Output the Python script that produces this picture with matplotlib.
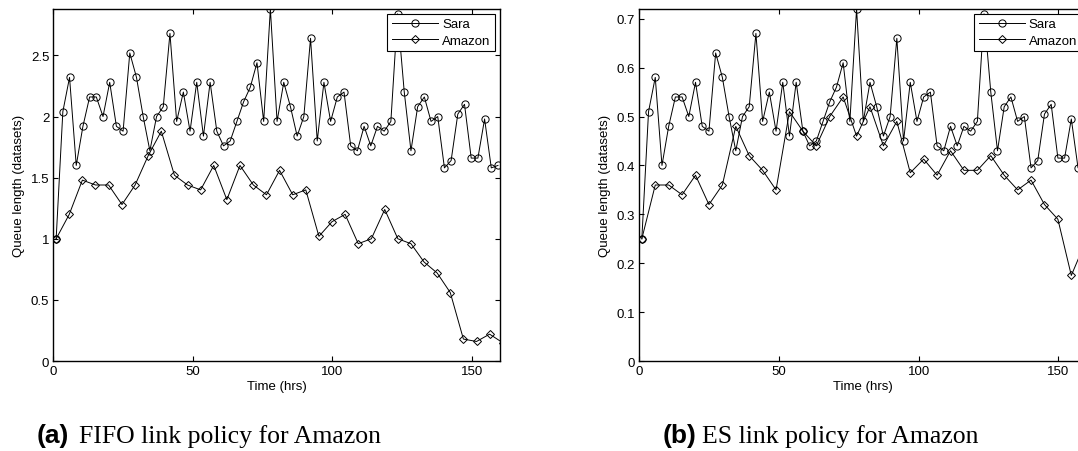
import matplotlib
matplotlib.use('Agg')  # no display
import matplotlib.pyplot as plt
from matplotlib.ticker import MultipleLocator, FormatStrFormatter

plt.rcParams['font.family'] = ['Liberation Sans', 'DejaVu Sans']

# Sample times (hrs)
sara_hours = [1.0, 3.4, 5.8, 8.2, 10.6, 13.0, 15.4, 17.8, 20.2, 22.6,
              25.0, 27.4, 29.8, 32.2, 34.6, 37.0, 39.4, 41.8, 44.2, 46.6,
              49.0, 51.4, 53.8, 56.2, 58.6, 61.0, 63.4, 65.8, 68.2, 70.6,
              73.0, 75.4, 77.8, 80.2, 82.6, 85.0, 87.4, 89.8, 92.2, 94.6,
              97.0, 99.4, 101.8, 104.2, 106.6, 109.0, 111.4, 113.8, 116.2, 118.6,
              121.0, 123.4, 125.8, 128.2, 130.6, 133.0, 135.4, 137.8, 140.2, 142.6,
              145.0, 147.4, 149.8, 152.2, 154.6, 157.0, 159.4]
amazon_fifo_hours = [1.0, 5.7, 10.4, 15.1, 19.8, 24.6, 29.3, 34.0, 38.7, 43.4,
                     48.1, 52.8, 57.5, 62.2, 66.9, 71.7, 76.4, 81.1, 85.8, 90.5,
                     95.2, 99.9, 104.6, 109.3, 114.0, 118.8, 123.5, 128.2, 132.9, 137.6,
                     142.3, 147.0, 151.7, 156.4, 161.1]
amazon_es_hours = [1.0, 5.8, 10.6, 15.4, 20.2, 25.0, 29.8, 34.6, 39.4, 44.2,
                   49.0, 53.8, 58.6, 63.4, 68.2, 73.0, 77.8, 82.6, 87.4, 92.2,
                   97.0, 101.8, 106.6, 111.4, 116.2, 121.0, 125.8, 130.6, 135.4, 140.2,
                   145.0, 149.8, 154.6, 159.4]

# (a) FIFO link policy
sara_fifo = [1.00, 2.04, 2.32, 1.60, 1.92, 2.16, 2.16, 2.00, 2.28, 1.92,
             1.88, 2.52, 2.32, 2.00, 1.72, 2.00, 2.08, 2.68, 1.96, 2.20,
             1.88, 2.28, 1.84, 2.28, 1.88, 1.76, 1.80, 1.96, 2.12, 2.24,
             2.44, 1.96, 2.88, 1.96, 2.28, 2.08, 1.84, 2.00, 2.64, 1.80,
             2.28, 1.96, 2.16, 2.20, 1.76, 1.72, 1.92, 1.76, 1.92, 1.88,
             1.96, 2.84, 2.20, 1.72, 2.08, 2.16, 1.96, 2.00, 1.58, 1.64,
             2.02, 2.10, 1.66, 1.66, 1.98, 1.58, 1.60]
amazon_fifo = [1.00, 1.20, 1.48, 1.44, 1.44, 1.28, 1.44, 1.68, 1.88, 1.52,
               1.44, 1.40, 1.60, 1.32, 1.60, 1.44, 1.36, 1.56, 1.36, 1.40,
               1.02, 1.14, 1.20, 0.96, 1.00, 1.24, 1.00, 0.96, 0.81, 0.72,
               0.56, 0.18, 0.16, 0.22, 0.15]

# (b) ES link policy
sara_es = [0.25, 0.51, 0.58, 0.40, 0.48, 0.54, 0.54, 0.50, 0.57, 0.48,
           0.47, 0.63, 0.58, 0.50, 0.43, 0.50, 0.52, 0.67, 0.49, 0.55,
           0.47, 0.57, 0.46, 0.57, 0.47, 0.44, 0.45, 0.49, 0.53, 0.56,
           0.61, 0.49, 0.72, 0.49, 0.57, 0.52, 0.46, 0.50, 0.66, 0.45,
           0.57, 0.49, 0.54, 0.55, 0.44, 0.43, 0.48, 0.44, 0.48, 0.47,
           0.49, 0.71, 0.55, 0.43, 0.52, 0.54, 0.49, 0.50, 0.395, 0.41,
           0.505, 0.525, 0.415, 0.415, 0.495, 0.395, 0.40]
amazon_es = [0.25, 0.36, 0.36, 0.34, 0.38, 0.32, 0.36, 0.48, 0.42, 0.39,
             0.35, 0.51, 0.47, 0.44, 0.50, 0.54, 0.46, 0.52, 0.44, 0.49,
             0.385, 0.413, 0.38, 0.43, 0.39, 0.39, 0.42, 0.38, 0.35, 0.37,
             0.32, 0.29, 0.175, 0.24]

panels = [
    ([0.0495, 0.199, 0.4140, 0.779], sara_fifo, amazon_fifo, amazon_fifo_hours, 0.5,
     '(a)', 'FIFO link policy for Amazon', 0.034, 0.073),
    ([0.5928, 0.199, 0.4150, 0.779], sara_es, amazon_es, amazon_es_hours, 0.1,
     '(b)', 'ES link policy for Amazon', 0.615, 0.651),
]

fig = plt.figure(figsize=(10.78, 4.52), dpi=100)

for rect, sara, amazon, amazon_hours, ystep, tag, caption, tag_x, cap_x in panels:
    ax = fig.add_axes(rect)
    ax.plot(sara_hours, sara, color='black', linewidth=0.7, marker='o',
            markersize=5.2, markerfacecolor='none', markeredgewidth=0.7, label='Sara')
    ax.plot(amazon_hours, amazon, color='black', linewidth=0.7, marker='D',
            markersize=3.7, markerfacecolor='none', markeredgewidth=0.7, label='Amazon')

    ax.set_xlim(0, 160)
    ax.set_ylim(0, max(sara))
    ax.xaxis.set_major_locator(MultipleLocator(50))
    ax.yaxis.set_major_locator(MultipleLocator(ystep))
    ax.yaxis.set_major_formatter(FormatStrFormatter('%g'))
    ax.tick_params(direction='in', top=True, right=True, length=3.5, width=0.8,
                   labelsize=9.5, pad=3)
    for spine in ax.spines.values():
        spine.set_linewidth(1.0)

    ax.set_xlabel('Time (hrs)', fontsize=9.5, labelpad=2)
    ax.set_ylabel('Queue length (datasets)', fontsize=9.5, labelpad=4)

    leg = ax.legend(loc='upper right', fancybox=False, edgecolor='black', framealpha=1,
                    fontsize=9.5, borderaxespad=0.35, handlelength=3.5,
                    handletextpad=0.3, labelspacing=0.3, borderpad=0.35)
    leg.get_frame().set_linewidth(0.8)

    # Subfigure captions
    fig.text(tag_x, 0.02, tag, fontsize=19, fontweight='bold', va='baseline')
    fig.text(cap_x, 0.02, caption, fontsize=18.5, family='Liberation Serif',
             va='baseline')

plt.savefig('out.png', dpi=100, facecolor='white')
plt.close(fig)
